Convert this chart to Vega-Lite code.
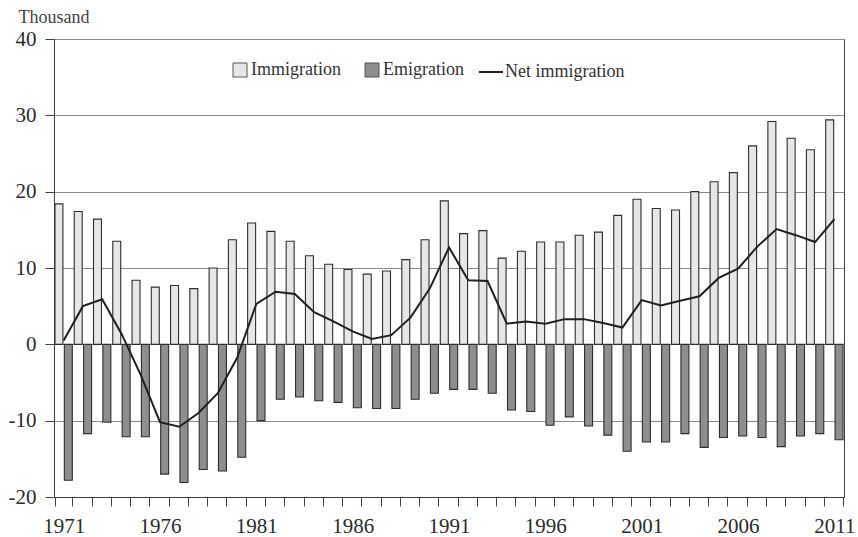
{
  "$schema": "https://vega.github.io/schema/vega-lite/v6.json",
  "width": 790,
  "height": 458,
  "autosize": {"type": "none"},
  "padding": {"left": 54, "top": 39, "right": 14, "bottom": 40},
  "config": {
    "font": "Liberation Serif",
    "view": {"stroke": "#404040", "strokeWidth": 1}
  },
  "data": {
    "values": [
      {"year": 1971, "Immigration": 18.4, "Emigration": -17.8, "Net": 0.5},
      {"year": 1972, "Immigration": 17.4, "Emigration": -11.7, "Net": 5.0},
      {"year": 1973, "Immigration": 16.4, "Emigration": -10.2, "Net": 5.9},
      {"year": 1974, "Immigration": 13.5, "Emigration": -12.1, "Net": 1.4},
      {"year": 1975, "Immigration": 8.4, "Emigration": -12.1, "Net": -4.0},
      {"year": 1976, "Immigration": 7.5, "Emigration": -17.0, "Net": -10.2},
      {"year": 1977, "Immigration": 7.7, "Emigration": -18.1, "Net": -10.8},
      {"year": 1978, "Immigration": 7.3, "Emigration": -16.4, "Net": -9.0},
      {"year": 1979, "Immigration": 10.0, "Emigration": -16.6, "Net": -6.4},
      {"year": 1980, "Immigration": 13.7, "Emigration": -14.8, "Net": -1.8},
      {"year": 1981, "Immigration": 15.9, "Emigration": -10.0, "Net": 5.3},
      {"year": 1982, "Immigration": 14.8, "Emigration": -7.2, "Net": 6.9},
      {"year": 1983, "Immigration": 13.5, "Emigration": -6.9, "Net": 6.6},
      {"year": 1984, "Immigration": 11.6, "Emigration": -7.4, "Net": 4.2},
      {"year": 1985, "Immigration": 10.5, "Emigration": -7.6, "Net": 3.0},
      {"year": 1986, "Immigration": 9.8, "Emigration": -8.3, "Net": 1.7},
      {"year": 1987, "Immigration": 9.2, "Emigration": -8.4, "Net": 0.7},
      {"year": 1988, "Immigration": 9.6, "Emigration": -8.4, "Net": 1.2},
      {"year": 1989, "Immigration": 11.1, "Emigration": -7.2, "Net": 3.5},
      {"year": 1990, "Immigration": 13.7, "Emigration": -6.4, "Net": 7.3},
      {"year": 1991, "Immigration": 18.8, "Emigration": -5.9, "Net": 12.7},
      {"year": 1992, "Immigration": 14.5, "Emigration": -5.9, "Net": 8.4},
      {"year": 1993, "Immigration": 14.9, "Emigration": -6.4, "Net": 8.3},
      {"year": 1994, "Immigration": 11.3, "Emigration": -8.6, "Net": 2.7},
      {"year": 1995, "Immigration": 12.2, "Emigration": -8.8, "Net": 3.0},
      {"year": 1996, "Immigration": 13.4, "Emigration": -10.6, "Net": 2.7},
      {"year": 1997, "Immigration": 13.4, "Emigration": -9.5, "Net": 3.3},
      {"year": 1998, "Immigration": 14.3, "Emigration": -10.7, "Net": 3.3},
      {"year": 1999, "Immigration": 14.7, "Emigration": -11.9, "Net": 2.8},
      {"year": 2000, "Immigration": 16.9, "Emigration": -14.0, "Net": 2.2},
      {"year": 2001, "Immigration": 19.0, "Emigration": -12.8, "Net": 5.8},
      {"year": 2002, "Immigration": 17.8, "Emigration": -12.8, "Net": 5.1},
      {"year": 2003, "Immigration": 17.6, "Emigration": -11.7, "Net": 5.7},
      {"year": 2004, "Immigration": 20.0, "Emigration": -13.5, "Net": 6.3},
      {"year": 2005, "Immigration": 21.3, "Emigration": -12.2, "Net": 8.7},
      {"year": 2006, "Immigration": 22.5, "Emigration": -12.0, "Net": 9.9},
      {"year": 2007, "Immigration": 26.0, "Emigration": -12.2, "Net": 12.8},
      {"year": 2008, "Immigration": 29.2, "Emigration": -13.4, "Net": 15.1},
      {"year": 2009, "Immigration": 27.0, "Emigration": -12.0, "Net": 14.3},
      {"year": 2010, "Immigration": 25.5, "Emigration": -11.7, "Net": 13.4},
      {"year": 2011, "Immigration": 29.4, "Emigration": -12.5, "Net": 16.4}
    ]
  },
  "encoding": {
    "x": {
      "field": "year",
      "type": "ordinal",
      "scale": {"paddingInner": 0.1, "paddingOuter": 0.05},
      "axis": {
        "title": null,
        "labelAngle": 0,
        "labelExpr": "(datum.value - 1971) % 5 === 0 ? datum.label : ''",
        "tickBand": "extent",
        "tickSize": 9,
        "tickColor": "#404040",
        "domainColor": "#404040",
        "labelPadding": 9,
        "labelFontSize": 21,
        "labelColor": "#2b2b2b",
        "labelFont": "Liberation Serif"
      }
    }
  },
  "layer": [
    {
      "transform": [{"fold": ["Immigration", "Emigration"], "as": ["series", "value"]}],
      "mark": {"type": "bar", "stroke": "#2e2e2e", "strokeWidth": 1.1},
      "encoding": {
        "xOffset": {"field": "series", "sort": ["Immigration", "Emigration"], "scale": {"paddingInner": 0.15}},
        "y": {
          "field": "value",
          "type": "quantitative",
          "scale": {"domain": [-20, 40], "nice": false},
          "axis": {
            "values": [-20, -10, 0, 10, 20, 30, 40],
            "labelExpr": "'' + datum.value",
            "grid": true,
            "gridColor": "#8a8a8a",
            "gridWidth": 1,
            "domainColor": "#404040",
            "tickColor": "#404040",
            "tickSize": 9,
            "labelPadding": 9,
            "labelFontSize": 21,
            "labelColor": "#2b2b2b",
            "labelFont": "Liberation Serif",
            "title": "Thousand",
            "titleAngle": 0,
            "titleAlign": "left",
            "titleBaseline": "alphabetic",
            "titleX": -36,
            "titleY": -17,
            "titleFontSize": 18,
            "titleFontWeight": "normal",
            "titleColor": "#444444",
            "titleFont": "Liberation Serif"
          }
        },
        "color": {
          "field": "series",
          "type": "nominal",
          "scale": {
            "domain": ["Immigration", "Emigration"],
            "range": ["#e6e6e6", "#8e8e8e"]
          },
          "legend": {
            "orient": "none",
            "legendX": 177,
            "legendY": 22,
            "direction": "horizontal",
            "title": null,
            "labelFont": "Liberation Serif",
            "labelFontSize": 18,
            "labelColor": "#333333",
            "symbolType": "square",
            "symbolSize": 196,
            "symbolStrokeColor": "#555555",
            "symbolStrokeWidth": 1,
            "symbolOpacity": 1,
            "columnPadding": 22,
            "labelOffset": 2
          }
        }
      }
    },
    {
      "mark": {"type": "line", "strokeWidth": 2},
      "encoding": {
        "y": {"field": "Net", "type": "quantitative"},
        "stroke": {
          "datum": "Net immigration",
          "scale": {"domain": ["Net immigration"], "range": ["#231f20"]},
          "legend": {
            "orient": "none",
            "legendX": 424,
            "legendY": 20,
            "direction": "horizontal",
            "title": null,
            "labelFont": "Liberation Serif",
            "labelFontSize": 18,
            "labelColor": "#333333",
            "symbolType": "stroke",
            "symbolSize": 576,
            "symbolStrokeWidth": 2,
            "labelOffset": 1
          }
        }
      }
    }
  ]
}
